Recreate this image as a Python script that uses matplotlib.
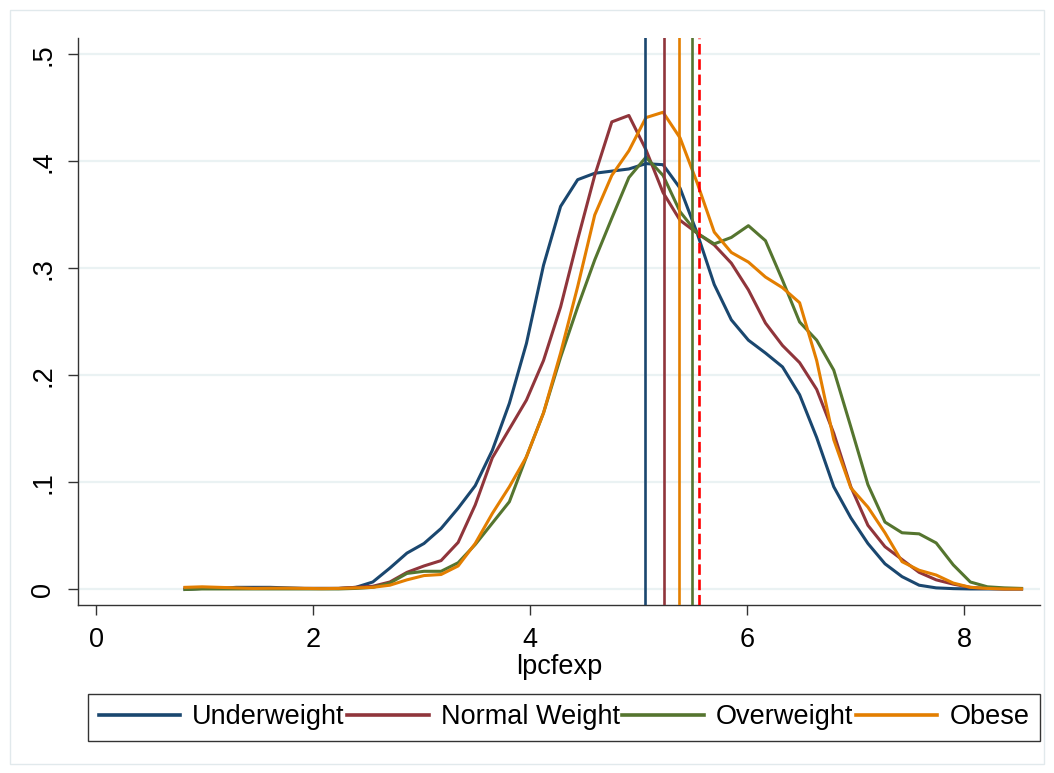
import numpy as np
import matplotlib.pyplot as plt
from matplotlib.patches import Rectangle

plt.rcParams['font.family'] = ['Liberation Sans', 'DejaVu Sans']

# kdensity evaluation grid (50 points)
lpcfexp = np.linspace(0.82, 8.53, 50)

underweight = [0.000, 0.001, 0.001, 0.002, 0.002, 0.002, 0.0015, 0.001, 0.001, 0.001,
               0.002, 0.007, 0.020, 0.034, 0.043, 0.057, 0.076, 0.097, 0.130, 0.174,
               0.230, 0.303, 0.358, 0.383, 0.389, 0.391, 0.393, 0.398, 0.397, 0.375,
               0.333, 0.285, 0.252, 0.233, 0.221, 0.208, 0.182, 0.142, 0.096, 0.067,
               0.043, 0.024, 0.012, 0.004, 0.0015, 0.0008, 0.0005, 0.0005, 0.0005, 0.0005]

normal = [0.0015, 0.0015, 0.001, 0.001, 0.001, 0.001, 0.001, 0.001, 0.001, 0.001,
          0.002, 0.003, 0.007, 0.016, 0.022, 0.027, 0.044, 0.079, 0.123, 0.150,
          0.177, 0.214, 0.264, 0.327, 0.387, 0.437, 0.443, 0.411, 0.371, 0.345,
          0.333, 0.322, 0.305, 0.280, 0.249, 0.228, 0.212, 0.187, 0.146, 0.096,
          0.060, 0.040, 0.028, 0.016, 0.009, 0.005, 0.002, 0.001, 0.0005, 0.0005]

overweight = [0.000, 0.0005, 0.0005, 0.0005, 0.0005, 0.0005, 0.0005, 0.0005, 0.0005, 0.0005,
              0.001, 0.002, 0.006, 0.015, 0.017, 0.017, 0.025, 0.042, 0.062, 0.082,
              0.124, 0.165, 0.217, 0.264, 0.308, 0.347, 0.385, 0.404, 0.387, 0.353,
              0.333, 0.323, 0.329, 0.340, 0.326, 0.289, 0.250, 0.233, 0.205, 0.152,
              0.098, 0.063, 0.053, 0.052, 0.0435, 0.023, 0.007, 0.0025, 0.0015, 0.001]

obese = [0.002, 0.0025, 0.002, 0.0015, 0.001, 0.0012, 0.0012, 0.001, 0.0008, 0.001,
         0.0015, 0.002, 0.004, 0.009, 0.013, 0.014, 0.022, 0.043, 0.071, 0.096,
         0.124, 0.165, 0.221, 0.283, 0.350, 0.387, 0.410, 0.441, 0.446, 0.422,
         0.380, 0.334, 0.315, 0.306, 0.292, 0.282, 0.268, 0.214, 0.140, 0.095,
         0.077, 0.053, 0.026, 0.018, 0.0135, 0.006, 0.002, 0.001, 0.0005, 0.0005]

labels = ['Underweight', 'Normal Weight', 'Overweight', 'Obese']
group_means = [5.06, 5.235, 5.49, 5.376]
overall_mean = 5.56

# stata s2color palette
colors = ['#1a476f', '#90353b', '#55752f', '#e37e00']

fig = plt.figure(figsize=(10.54, 7.73), dpi=100)
ax = fig.add_axes([78/1054, 1 - 605/773, 962/1054, 567/773])

for ys, lab, c in zip([underweight, normal, overweight, obese], labels, colors):
    ax.plot(lpcfexp, ys, color=c, lw=2.2, label=lab, zorder=3)

# group mean lines plus overall mean (dashed)
for m, c in zip(group_means, colors):
    ax.axvline(m, color=c, lw=1.9, zorder=4)
ax.axvline(overall_mean, color='red', lw=1.9, ls=(0, (4, 1.8)), zorder=5)

ax.set_xlim(-0.166, 8.70)
ax.set_ylim(-0.0145, 0.5154)
ax.set_xticks([0, 2, 4, 6, 8])
ax.set_yticks([0, 0.1, 0.2, 0.3, 0.4, 0.5])
ax.set_yticklabels(['0', '.1', '.2', '.3', '.4', '.5'], rotation=90, va='center')
ax.tick_params(axis='both', labelsize=19.5, length=7.5, width=1, color='#333333', pad=8)
ax.yaxis.grid(True, color='#eaf2f3', lw=1.6)
ax.set_axisbelow(True)
for s in ['top', 'right']:
    ax.spines[s].set_visible(False)
for s in ['left', 'bottom']:
    ax.spines[s].set_color('#333333')
    ax.spines[s].set_linewidth(1)
ax.set_xlabel('lpcfexp', fontsize=19.5, labelpad=1)

leg = fig.legend(loc='center', bbox_to_anchor=(564/1054, 1 - 717.5/773), ncol=4,
                 fontsize=19.5, frameon=True, fancybox=False, edgecolor='black',
                 handlelength=3.0, handletextpad=0.45, columnspacing=0.1,
                 borderpad=0.4, borderaxespad=0)
leg.get_frame().set_linewidth(1)
for h in leg.get_lines():
    h.set_linewidth(2.6)

# outer graph region border
fig.patches.append(Rectangle((10/1054, 9/773), 1034/1054, 754/773, transform=fig.transFigure,
                             fill=False, edgecolor='#e1e9ec', lw=1))

plt.savefig('out.png', dpi=100)
